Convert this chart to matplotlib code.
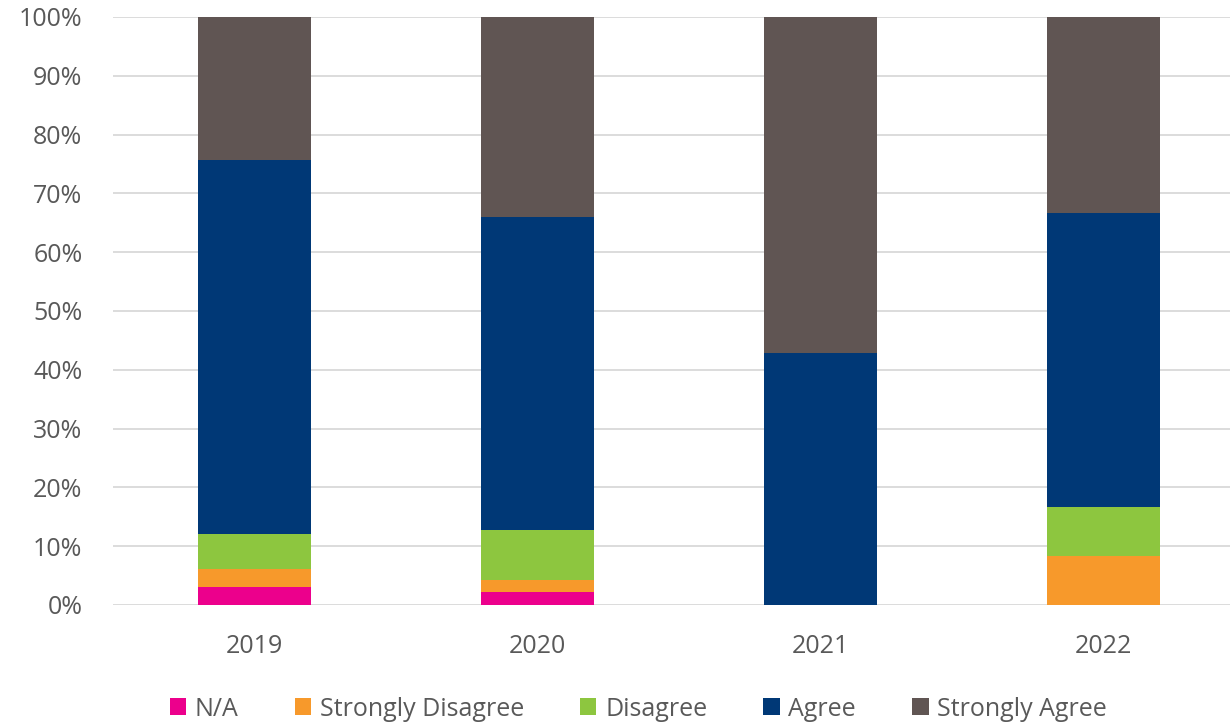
import matplotlib.pyplot as plt
import numpy as np

years = ['2019', '2020', '2021', '2022']
series = ['N/A', 'Strongly Disagree', 'Disagree', 'Agree', 'Strongly Agree']
na = [3.03, 2.13, 0.0, 0.0]
strongly_disagree = [3.03, 2.13, 0.0, 8.33]
disagree = [6.06, 8.51, 0.0, 8.33]
agree = [63.64, 53.19, 42.86, 50.0]
strongly_agree = [24.24, 34.04, 57.14, 33.33]
colors = ['#EC008C', '#F7992B', '#8DC63F', '#003876', '#605553']

plt.rcParams['font.family'] = ['Open Sans', 'DejaVu Sans']

fig = plt.figure(figsize=(12.3, 7.25), dpi=100)
ax = fig.add_axes([113 / 1230, 1 - 605 / 725, 1132 / 1230, 588 / 725])

x = np.arange(len(years))
bottom = np.zeros(len(years))
for name, vals, c in zip(series, [na, strongly_disagree, disagree, agree, strongly_agree], colors):
    vals = np.array(vals)
    ax.bar(x, vals, 0.4, bottom=bottom, color=c, label=name, zorder=3)
    bottom += vals

ax.set_xlim(-0.5, 3.5)
ax.set_ylim(0, 100)
ax.set_yticks(range(0, 101, 10))
ax.set_yticklabels([f'{v}%' for v in range(0, 101, 10)])
ax.set_xticks(x)
ax.set_xticklabels(years)
ax.grid(axis='y', color='#d9d9d9', linewidth=1.3, zorder=0)
for s in ax.spines.values():
    s.set_visible(False)
ax.tick_params(length=0, labelsize=18, labelcolor='#595959')
ax.tick_params(axis='x', pad=21)
ax.tick_params(axis='y', pad=22)

fig.legend(loc='center', bbox_to_anchor=(0.519, 1 - 709 / 725), ncol=5, frameon=False,
           fontsize=18, labelcolor='#595959', handlelength=0.65, handleheight=0.65,
           handletextpad=0.35, columnspacing=2.25)

fig.savefig('out.png', dpi=100)
